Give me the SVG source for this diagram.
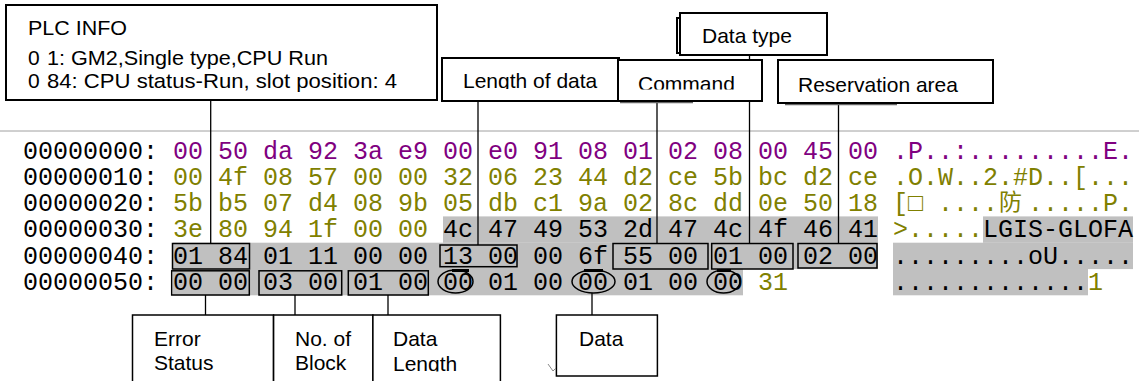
<svg xmlns="http://www.w3.org/2000/svg" width="1139" height="381" viewBox="0 0 1139 381">
<defs>
<style>
.box{fill:#fff;stroke:#000;stroke-width:2}
.bbox{fill:#fff;stroke:#000;stroke-width:1.5}
.lbl{font-family:"Liberation Sans",Arial,sans-serif;font-size:21px;fill:#000}
.hex{font-family:"Liberation Mono","Courier New","Noto Sans CJK SC",monospace;font-size:25px}
.cjk{font-family:"Noto Sans CJK SC",sans-serif;font-size:23px}
.pu{fill:#800080}
.ol{fill:#808000}
.bk{fill:#000}
.hl{fill:#c0c0c0}
.hb{fill:none;stroke:#000;stroke-width:1.5}
.bar{stroke:#000;stroke-width:3;fill:none}
.ln{stroke:#000;stroke-width:1.3;fill:none}
.sh{stroke:#666;stroke-width:1.5;fill:none}
</style>
<clipPath id="cLen"><rect x="442" y="58" width="177" height="31"/></clipPath>
<clipPath id="cCmd"><rect x="618" y="60" width="144" height="29.5"/></clipPath>
<clipPath id="cDL"><rect x="373" y="315" width="127" height="56.5"/></clipPath>
</defs>
<rect width="1139" height="381" fill="#fff"/>

<g id="hexdump">
<line x1="0" y1="131" x2="1139" y2="131" stroke="#a0a0a0" stroke-width="1"/>
<rect class="hl" x="443" y="216.4" width="435" height="26.4"/>
<rect class="hl" x="173" y="242.7" width="705" height="26.4"/>
<rect class="hl" x="173" y="269" width="570" height="26.3"/>
<rect class="hl" x="983" y="216.4" width="150" height="26.4"/>
<rect class="hl" x="893" y="242.7" width="240" height="26.4"/>
<rect class="hl" x="893" y="269" width="195" height="26.3"/>

<g class="hex">
<text class="bk" x="23" y="158.5">00000000:</text>
<text class="bk" x="23" y="184.8">00000010:</text>
<text class="bk" x="23" y="211.1">00000020:</text>
<text class="bk" x="23" y="237.4">00000030:</text>
<text class="bk" x="23" y="263.7">00000040:</text>
<text class="bk" x="23" y="290">00000050:</text>

<text class="pu" x="173" y="158.5">00 50 da 92 3a e9 00 e0 91 08 01 02 08 00 45 00</text>
<text class="ol" x="173" y="184.8">00 4f 08 57 00 00 32 06 23 44 d2 ce 5b bc d2 ce</text>
<text class="ol" x="173" y="211.1">5b b5 07 d4 08 9b 05 db c1 9a 02 8c dd 0e 50 18</text>
<text y="237.4"><tspan class="ol" x="173">3e 80 94 1f 00 00</tspan><tspan class="bk" x="443">4c 47 49 53 2d 47 4c 4f 46 41</tspan></text>
<text class="bk" x="173" y="263.7">01 84 01 11 00 00 13 00 00 6f 55 00 01 00 02 00</text>
<text y="290"><tspan class="bk" x="173">00 00 03 00 01 00 00 01 00 00 01 00 00</tspan><tspan class="ol" x="758">31</tspan></text>

<text class="pu" x="893" y="158.5">.P..:.........E.</text>
<text class="ol" x="893" y="184.8">.O.W..2.#D..[...</text>
<text class="ol" y="211.1"><tspan x="893">[</tspan><tspan x="908">□</tspan><tspan x="938">....</tspan><tspan class="cjk" x="999" y="210">防</tspan><tspan x="1028" y="211.1">.....</tspan><tspan x="1103">P.</tspan></text>
<text y="237.4"><tspan class="ol" x="893">&gt;.....</tspan><tspan class="bk" x="983">LGIS-GLOFA</tspan></text>
<text class="bk" x="893" y="263.7">.........oU.....</text>
<text y="290"><tspan class="bk" x="893">.............</tspan><tspan class="ol" x="1088">1</tspan></text>
</g>

<rect class="hb" x="172.5" y="243.5" width="77" height="25.5"/>
<rect class="hb" x="440" y="245" width="77" height="21.7"/>
<rect class="hb" x="613" y="243.5" width="95" height="25.5"/>
<rect class="hb" x="711.7" y="243.5" width="81.3" height="25.5"/>
<rect class="hb" x="798" y="243.5" width="79" height="24.5"/>
<rect class="hb" x="171.7" y="270.8" width="77.6" height="24.2"/>
<rect class="hb" x="259" y="270.8" width="82.7" height="24.2"/>
<rect class="hb" x="348.3" y="270.8" width="80" height="24.2"/>
<ellipse class="hb" cx="455.5" cy="281.5" rx="17.5" ry="11.5"/>
<ellipse class="hb" cx="593.5" cy="281.5" rx="21.5" ry="11.5"/>
<ellipse class="hb" cx="723.5" cy="281.5" rx="16.5" ry="11.5"/>
<path class="bar" d="M452 270.5H469M584 270.5H603M717 270.5H731"/>
</g>

<g id="connectors">
<path class="ln" d="M210.7 100V243.5"/>
<path class="ln" d="M478 101V245"/>
<path class="ln" d="M657 101V243.5"/>
<path class="ln" d="M749.5 55V243.5"/>
<path class="ln" d="M838.5 103V243.5"/>
<path class="ln" d="M205.5 295V315"/>
<path class="ln" d="M295 295V315"/>
<path class="ln" d="M388 295V315"/>
<path class="ln" d="M592 293V315"/>
</g>

<g id="plc-info">
<rect class="box" x="6" y="5" width="431" height="95"/>
<text class="lbl" x="28" y="35" textLength="99" lengthAdjust="spacingAndGlyphs">PLC INFO</text>
<text class="lbl" x="28" y="65">0</text>
<text class="lbl" x="47" y="65" textLength="281" lengthAdjust="spacingAndGlyphs">1: GM2,Single type,CPU Run</text>
<text class="lbl" x="28" y="88">0</text>
<text class="lbl" x="47" y="88" textLength="350" lengthAdjust="spacingAndGlyphs">84: CPU status-Run, slot position: 4</text>
</g>

<g id="data-type">
<rect class="box" x="677" y="18" width="140" height="35"/>
<rect class="box" x="680" y="13" width="147" height="42"/>
<text class="lbl" x="702" y="43">Data type</text>
</g>

<g id="length-of-data">
<rect class="box" x="442" y="58" width="177" height="43"/>
<text class="lbl" x="463" y="87.5" clip-path="url(#cLen)">Length of data</text>
</g>

<g id="command">
<path class="sh" d="M620 102.5H693"/>
<rect class="box" x="618" y="60" width="144" height="41"/>
<text class="lbl" x="638" y="90.5" clip-path="url(#cCmd)">Command</text>
</g>

<g id="reservation-area">
<path class="sh" d="M785 104.5H897"/>
<rect class="box" x="778" y="60" width="215" height="43"/>
<text class="lbl" x="798" y="91.5">Reservation area</text>
</g>

<g id="error-status">
<rect class="bbox" x="132.5" y="315" width="141" height="75"/>
<text class="lbl" x="154" y="346">Error</text>
<text class="lbl" x="154" y="370">Status</text>
</g>

<g id="no-of-block">
<rect class="bbox" x="273.6" y="315" width="99.3" height="75"/>
<text class="lbl" x="295" y="346">No. of</text>
<text class="lbl" x="295" y="370">Block</text>
</g>

<g id="data-length">
<rect class="bbox" x="372.9" y="315" width="127.5" height="75"/>
<text class="lbl" x="393" y="346">Data</text>
<text class="lbl" x="393" y="370.5" clip-path="url(#cDL)">Length</text>
</g>

<g id="data">
<rect class="bbox" x="556.4" y="315" width="101" height="61"/>
<text class="lbl" x="579" y="346">Data</text>
</g>

<path d="M548 364L553 371L556 368" fill="none" stroke="#888" stroke-width="1"/>
</svg>
